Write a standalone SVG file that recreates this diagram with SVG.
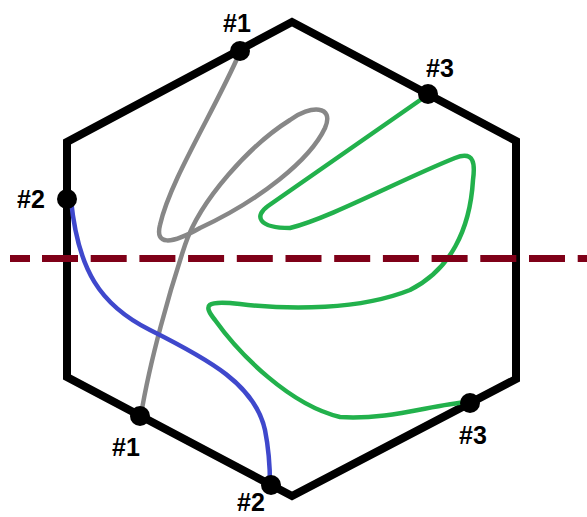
<svg xmlns="http://www.w3.org/2000/svg" width="587" height="517" viewBox="0 0 587 517">
<style>
.hex{fill:none;stroke:#000;stroke-width:8;stroke-linejoin:miter}
.curve{fill:none;stroke-width:4.5;stroke-linecap:round;stroke-linejoin:round}
.dot{fill:#000}
.lbl{font-family:"Liberation Sans",Arial,sans-serif;font-weight:bold;font-size:25px;fill:#000;text-anchor:middle}
</style>
<rect width="587" height="517" fill="#fff"/>
<g id="hexagon">
<polygon class="hex" points="292,22 516,141 516,379 292,496 67,377 67,142"/>
</g>
<g id="connectors">
<path id="gray-curve" class="curve" stroke="#878787" d="M240,52 C215,110 170,180 160,225 C155,245 170,245 200,228 C260,200 310,160 325,128 C335,105 310,105 290,120 C250,145 200,200 185,245 C170,290 150,360 141,415"/>
<path id="blue-curve" class="curve" stroke="#3f48cc" d="M71,200 C78,270 100,305 150,330 C210,360 255,385 265,430 C270,455 270,475 270,485"/>
<path id="green-curve" class="curve" stroke="#22b14c" d="M426,96 L268,206 C254,216 258,228 290,228 C330,218 400,180 455,158 C475,150 475,165 473,180 C470,230 450,270 410,290 C360,310 290,310 240,304 C205,300 203,305 215,320 C240,355 290,405 340,417 C390,420 430,405 468,402"/>
<path id="divider" fill="none" stroke="#7f0018" stroke-width="7" stroke-dasharray="36 12.7" d="M10,258.5 H30 M42,258.5 H587"/>
</g>
<g id="p1-top"><circle class="dot" cx="240" cy="51" r="10"/><text class="lbl" x="237" y="32">#1</text></g>
<g id="p3-top"><circle class="dot" cx="428" cy="94" r="10"/><text class="lbl" x="440" y="77">#3</text></g>
<g id="p2-left"><circle class="dot" cx="67" cy="199" r="10"/><text class="lbl" x="31" y="208">#2</text></g>
<g id="p1-bottom"><circle class="dot" cx="140" cy="416" r="10"/><text class="lbl" x="126" y="456">#1</text></g>
<g id="p2-bottom"><circle class="dot" cx="271" cy="485" r="10"/><text class="lbl" x="251" y="511">#2</text></g>
<g id="p3-bottom"><circle class="dot" cx="470" cy="403" r="10"/><text class="lbl" x="473" y="444">#3</text></g>
</svg>
